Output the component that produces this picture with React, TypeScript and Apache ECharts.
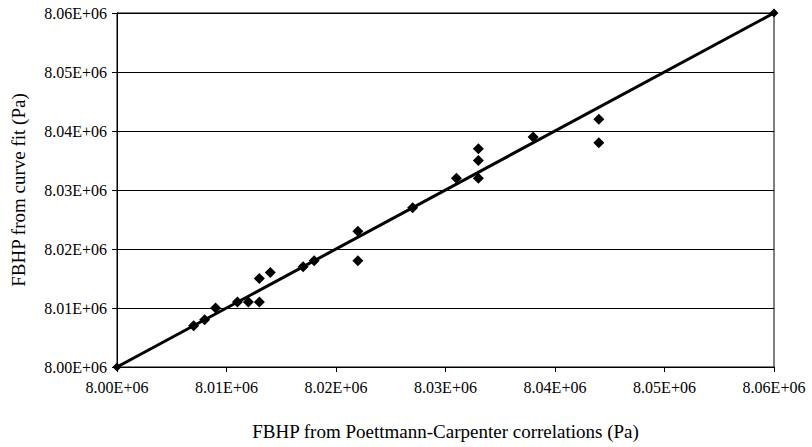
import React, { useEffect, useRef } from "react";
import * as echarts from "echarts";

const poettmannX = [8.007e6, 8.008e6, 8.009e6, 8.011e6, 8.012e6, 8.013e6, 8.013e6, 8.014e6, 8.017e6, 8.018e6, 8.022e6, 8.022e6, 8.027e6, 8.031e6, 8.033e6, 8.033e6, 8.033e6, 8.038e6, 8.044e6, 8.044e6];
const curveFitY = [8.007e6, 8.008e6, 8.010e6, 8.011e6, 8.011e6, 8.011e6, 8.015e6, 8.016e6, 8.017e6, 8.018e6, 8.023e6, 8.018e6, 8.027e6, 8.032e6, 8.037e6, 8.035e6, 8.032e6, 8.039e6, 8.042e6, 8.038e6];
const lineX = [8.00e6, 8.06e6];
const lineY = [8.00e6, 8.06e6];
const axisMin = 8.00e6;
const axisMax = 8.06e6;
const axisStep = 0.01e6;

const fmt = (v: number) => (v / 1e6).toFixed(2) + "E+06";

export default function App() {
  const ref = useRef<HTMLDivElement>(null);
  useEffect(() => {
    if (!ref.current) return;
    const chart = echarts.init(ref.current, undefined, { renderer: "svg" });
    const font = "'Liberation Serif', 'Times New Roman', serif";
    chart.setOption({
      animation: false,
      backgroundColor: "#fff",
      textStyle: { fontFamily: font, color: "#000" },
      grid: {
        left: 117, right: 38, top: 13, bottom: 80,
        show: true, borderColor: "#000", borderWidth: 1,
        containLabel: false, outerBoundsMode: "none",
      },
      xAxis: {
        type: "value",
        min: axisMin,
        max: axisMax,
        interval: axisStep,
        name: "FBHP from Poettmann-Carpenter correlations (Pa)",
        nameLocation: "middle",
        nameGap: 55,
        nameTextStyle: { fontFamily: font, fontSize: 19, color: "#000" },
        axisLine: { show: true, lineStyle: { color: "#000", width: 1 } },
        axisTick: { show: true, length: 5, lineStyle: { color: "#000" } },
        axisLabel: { formatter: fmt, fontFamily: font, fontSize: 16, color: "#000", margin: 12 },
        splitLine: { show: false },
      },
      yAxis: {
        type: "value",
        min: axisMin,
        max: axisMax,
        interval: axisStep,
        name: "FBHP from curve fit (Pa)",
        nameLocation: "middle",
        nameGap: 89,
        nameTextStyle: { fontFamily: font, fontSize: 19, color: "#000" },
        axisLine: { show: true, lineStyle: { color: "#000", width: 1 } },
        axisTick: { show: true, length: 5, lineStyle: { color: "#000" } },
        axisLabel: { formatter: fmt, fontFamily: font, fontSize: 16, color: "#000", margin: 10 },
        splitLine: { show: true, lineStyle: { color: "#000", width: 1 } },
      },
      series: [
        {
          type: "line",
          data: lineX.map((x, i) => [x, lineY[i]]),
          symbol: "diamond",
          symbolSize: 9,
          itemStyle: { color: "#000" },
          lineStyle: { color: "#000", width: 3 },
          z: 2,
        },
        {
          type: "scatter",
          data: poettmannX.map((x, i) => [x, curveFitY[i]]),
          symbol: "diamond",
          symbolSize: 11,
          itemStyle: { color: "#000", opacity: 1 },
          z: 3,
        },
      ],
    });
    return () => chart.dispose();
  }, []);
  return <div ref={ref} style={{ width: 812, height: 447, position: "absolute", left: 0, top: 0 }} />;
}
